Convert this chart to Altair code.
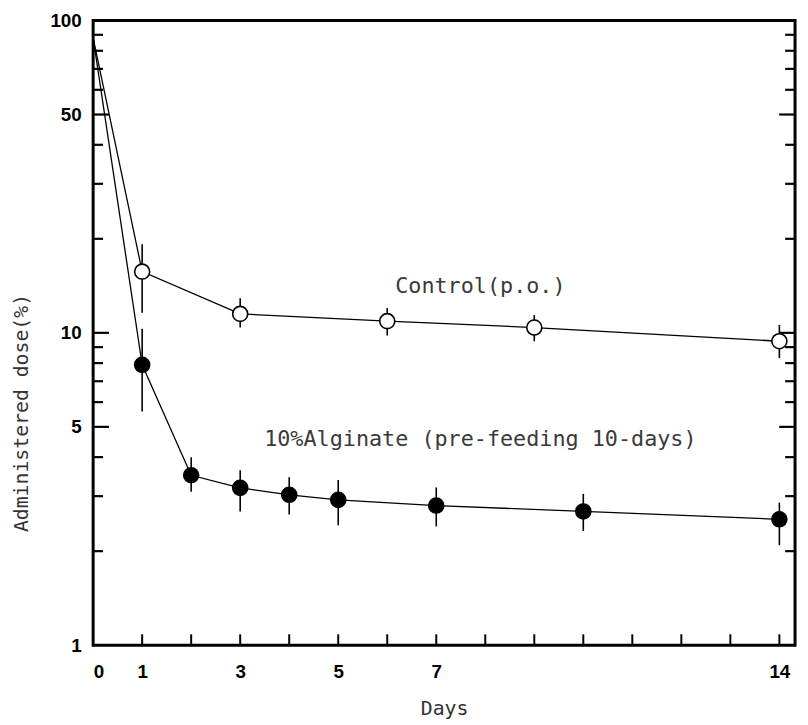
import altair as alt
import pandas as pd

# ---- data ----
ctrl_days = [0, 1, 3, 6, 9, 14]
ctrl_mean = [88, 15.7, 11.5, 10.9, 10.4, 9.4]
ctrl_lo = [None, 11.6, 10.4, 9.8, 9.4, 8.3]
ctrl_hi = [None, 19.2, 12.9, 12.0, 11.4, 10.6]

alg_days = [0, 1, 2, 3, 4, 5, 7, 10, 14]
alg_mean = [88, 7.9, 3.5, 3.19, 3.03, 2.92, 2.8, 2.68, 2.53]
alg_lo = [None, 5.6, 3.1, 2.68, 2.62, 2.42, 2.4, 2.32, 2.09]
alg_hi = [None, 10.3, 4.0, 3.63, 3.45, 3.38, 3.2, 3.05, 2.86]

x_label_vals = [0, 1, 3, 5, 7, 14]
x_tick_vals = list(range(1, 15))
y_label_vals = [1, 5, 10, 50, 100]
y_major_ticks = [5, 10, 50]
y_minor_ticks = [2, 3, 4, 6, 7, 8, 9, 20, 30, 40, 60, 70, 80, 90]

W, H = 709, 631

ctrl = pd.DataFrame({"day": ctrl_days, "mean": ctrl_mean, "lo": ctrl_lo, "hi": ctrl_hi})
alg = pd.DataFrame({"day": alg_days, "mean": alg_mean, "lo": alg_lo, "hi": alg_hi})

xs = alt.Scale(domain=[0, 14.32], nice=False, zero=False)
ys = alt.Scale(type="log", domain=[1, 100], nice=False)

label_font = "Liberation Sans"
mono = "DejaVu Sans Mono"

x_enc = alt.X("day:Q", scale=xs, axis=alt.Axis(
    values=x_label_vals, ticks=False, domain=False, grid=False,
    labelFont=label_font, labelFontWeight="bold", labelFontSize=19, labelColor="black",
    labelPadding=18, title="Days", titleFont=mono, titleFontWeight="normal",
    titleFontSize=20, titleColor="#333", titleY=64, titleBaseline="middle"))
y_enc = alt.Y("mean:Q", scale=ys, axis=alt.Axis(
    values=y_label_vals, ticks=False, domain=False, grid=False, format="d",
    labelFont=label_font, labelFontWeight="bold", labelFontSize=19, labelColor="black",
    labelPadding=12, title="Administered dose(%)", titleFont=mono, titleFontWeight="normal",
    titleFontSize=20, titleColor="#333", titleAngle=270, titleX=-72, titleY=396,
    titleAlign="center", titleBaseline="middle"))

def series(df, filled):
    line = alt.Chart(df).mark_line(color="black", strokeWidth=1.3).encode(x=x_enc, y=y_enc)
    pts_df = df[df["day"] > 0]
    err = alt.Chart(pts_df).mark_rule(color="black", strokeWidth=1.6).encode(
        x=alt.X("day:Q", scale=xs), y=alt.Y("lo:Q", scale=ys), y2="hi:Q")
    pts = alt.Chart(pts_df).mark_point(
        shape="circle", size=230, filled=True,
        fill="black" if filled else "white", stroke="black", strokeWidth=1.6, opacity=1
    ).encode(x=alt.X("day:Q", scale=xs), y=alt.Y("mean:Q", scale=ys))
    return [line, err, pts]

# inside tick marks
bt = pd.DataFrame({"day": x_tick_vals})
bottom_ticks = alt.Chart(bt).mark_rule(color="black", strokeWidth=2).encode(
    x=alt.X("day:Q", scale=xs), y=alt.value(H), y2=alt.value(H - 11))

ymaj = pd.DataFrame({"v": y_major_ticks})
ymin = pd.DataFrame({"v": y_minor_ticks})
left_major = alt.Chart(ymaj).mark_rule(color="black", strokeWidth=2.2).encode(
    y=alt.Y("v:Q", scale=ys), x=alt.value(0), x2=alt.value(16))
left_minor = alt.Chart(ymin).mark_rule(color="black", strokeWidth=2.2).encode(
    y=alt.Y("v:Q", scale=ys), x=alt.value(0), x2=alt.value(10))
right_major = alt.Chart(ymaj).mark_rule(color="black", strokeWidth=2.2).encode(
    y=alt.Y("v:Q", scale=ys), x=alt.value(W - 16), x2=alt.value(W))
right_minor = alt.Chart(ymin).mark_rule(color="black", strokeWidth=2.2).encode(
    y=alt.Y("v:Q", scale=ys), x=alt.value(W - 10), x2=alt.value(W))

ann = pd.DataFrame({
    "day": [7.9, 7.9],
    "val": [14.1, 4.56],
    "txt": ["Control(p.o.)", "10%Alginate (pre-feeding 10-days)"],
})
texts = alt.Chart(ann).mark_text(font=mono, fontSize=22, color="#3a3a3a", align="center",
                                 baseline="middle").encode(
    x=alt.X("day:Q", scale=xs), y=alt.Y("val:Q", scale=ys), text="txt:N")

layers = series(ctrl, False) + series(alg, True)
chart = alt.layer(
    bottom_ticks, left_major, left_minor, right_major, right_minor,
    *layers, texts
).properties(
    width=W, height=H,
    autosize=alt.AutoSizeParams(type="none"),
    padding={"left": 86, "top": 9, "right": 5, "bottom": 77},
).configure(background="white").configure_view(stroke="black", strokeWidth=3)

chart.save("out.html", embed_options={"renderer": "svg", "actions": False})
